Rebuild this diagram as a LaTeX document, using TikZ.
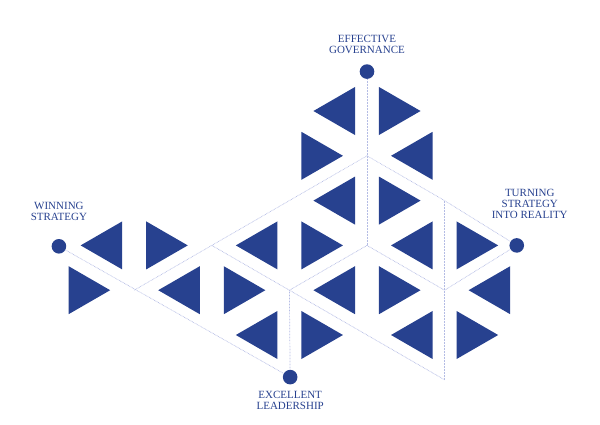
\documentclass[tikz,border=0pt]{standalone}
\usepackage{fontspec}
\setmainfont{Liberation Serif}
\usetikzlibrary{positioning}
\definecolor{tblue}{HTML}{27418F}
\definecolor{tline}{HTML}{B4BCE4}

\begin{document}
\begin{tikzpicture}[x=77.6pt,y=-44.8pt,
    ltri/.pic={\fill[tblue] (0.179,-0.536) -- (-0.357,0) -- (0.179,0.536) -- cycle;},
    rtri/.pic={\fill[tblue] (-0.179,-0.536) -- (0.357,0) -- (-0.179,0.536) -- cycle;},
    dot/.style={circle,fill=tblue,inner sep=0pt,minimum size=14.6pt},
    tag/.style={text=tblue,inner sep=0pt,align=center,
      font=\fontsize{11}{11}\selectfont},
    link/.style={draw=tline,line width=0.7pt,dash pattern=on 0.7pt off 0.8pt}]
  \useasboundingbox (-367pt,155.8pt) rectangle (233pt,-268.2pt);

  \coordinate (c0) at (0,0);
  \coordinate (b0) at (0,2);
  \coordinate (l1) at (-2,2);
  \coordinate (l2) at (-3,3);
  \coordinate (m) at (-1,3);
  \coordinate (r1) at (1,1);
  \coordinate (rc) at (1,3);
  \coordinate (rb) at (1,5);

  \node[dot] (gov) at (0,-1.88) {};
  \node[dot] (win) at (-3.97,2.02) {};
  \node[dot] (turn) at (1.93,2) {};
  \node[dot] (lead) at (-0.99,4.94) {};

  \draw[link] (gov) -- (c0) -- (b0);
  \draw[link] (c0) -- (l2);
  \draw[link] (win) -- (lead);
  \draw[link] (l1) -- (m) -- (lead);
  \draw[link] (b0) -- (m);
  \draw[link] (c0) -- (r1) -- (turn);
  \draw[link] (r1) -- (rb);
  \draw[link] (turn) -- (rc);
  \draw[link] (b0) -- (rc);
  \draw[link] (m) -- (rb);

  \pic at (-1/3,-1) {ltri};
  \pic at (1/3,-1) {rtri};
  \pic at (-2/3,0) {rtri};
  \pic at (2/3,0) {ltri};
  \pic at (-1/3,1) {ltri};
  \pic at (1/3,1) {rtri};

  \pic at (-4/3,2) {ltri};
  \pic at (-2/3,2) {rtri};
  \pic at (-5/3,3) {rtri};
  \pic at (-1/3,3) {ltri};
  \pic at (-4/3,4) {ltri};
  \pic at (-2/3,4) {rtri};

  \pic at (2/3,2) {ltri};
  \pic at (4/3,2) {rtri};
  \pic at (1/3,3) {rtri};
  \pic at (5/3,3) {ltri};
  \pic at (2/3,4) {ltri};
  \pic at (4/3,4) {rtri};

  \pic at (-10/3,2) {ltri};
  \pic at (-8/3,2) {rtri};
  \pic at (-11/3,3) {rtri};
  \pic at (-7/3,3) {ltri};

  \node[tag,above=10pt of gov] (govtxt) {EFFECTIVE\\GOVERNANCE};
  \node[tag,above=17.5pt of win] (wintxt) {WINNING\\STRATEGY};
  \node[tag,above=19.5pt of turn,xshift=13pt] (turntxt)
    {TURNING\\STRATEGY\\INTO REALITY};
  \node[tag,below=6.5pt of lead] (leadtxt) {EXCELLENT\\LEADERSHIP};
\end{tikzpicture}
\end{document}
